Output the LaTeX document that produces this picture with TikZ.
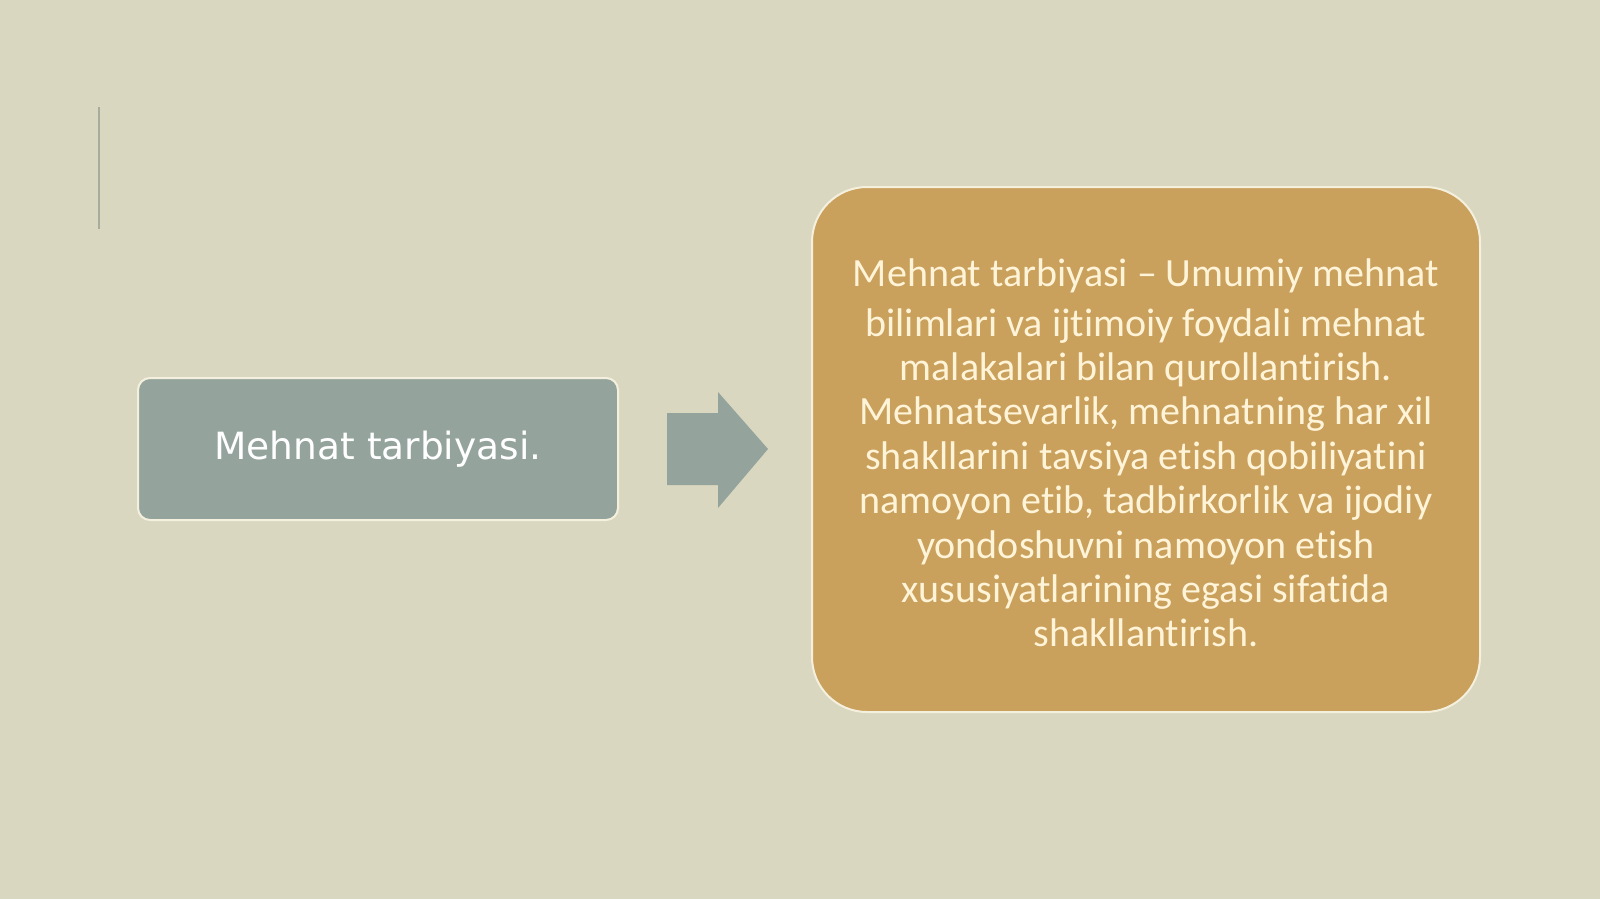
\documentclass[tikz,border=0pt]{standalone}
\usepackage{fontspec}
\setmainfont{Carlito}[Ligatures={NoCommon,NoContextual}]
\newfontfamily\grayfont{DejaVu Sans}
\definecolor{bgc}{RGB}{217,215,191}
\definecolor{grayc}{RGB}{148,164,157}
\definecolor{orangec}{RGB}{201,160,92}
\definecolor{creamc}{RGB}{255,244,216}
\definecolor{linec}{RGB}{168,172,156}
\definecolor{edgec}{RGB}{245,240,222}
\tikzset{
  graybox/.style={draw=edgec, line width=2pt, fill=grayc, rounded corners=12pt},
  orangebox/.style={draw=edgec, line width=2pt, fill=orangec, rounded corners=55pt},
  arrowshape/.style={fill=grayc, draw=none},
  graytext/.style={text=white, font=\grayfont\fontsize{37.5}{44}\selectfont},
  orangetext/.style={text=creamc, align=center, font=\fontsize{40}{44.4}\selectfont}
}
\begin{document}
\begin{tikzpicture}[x=1pt,y=-1pt]
\fill[bgc] (0,0) rectangle (1600,899);
\useasboundingbox (0,0) rectangle (1600,899);
% left vertical rule
\draw[linec, line width=2.5pt] (99,107) -- (99,229);
% gray box
\draw[graybox] (138,378) rectangle (618,520);
\node[graytext] (left) at (378,449) {Mehnat tarbiyasi.};
% block arrow
\fill[arrowshape] (667,413) -- (718,413) -- (718,392) -- (768,449) -- (718,508) -- (718,485) -- (667,485) -- cycle;
% orange box
\draw[orangebox] (812,187) rectangle (1480,712);
\node[orangetext] (right) at (1146,453) {Mehnat tarbiyasi -- Umumiy mehnat\\[5pt]
bilimlari va ijtimoiy foydali mehnat\\
malakalari bilan qurollantirish.\\
Mehnatsevarlik, mehnatning har xil\\
shakllarini tavsiya etish qobiliyatini\\
namoyon etib, tadbirkorlik va ijodiy\\
yondoshuvni namoyon etish\\
xususiyatlarining egasi sifatida\\
shakllantirish.};
\end{tikzpicture}
\end{document}
